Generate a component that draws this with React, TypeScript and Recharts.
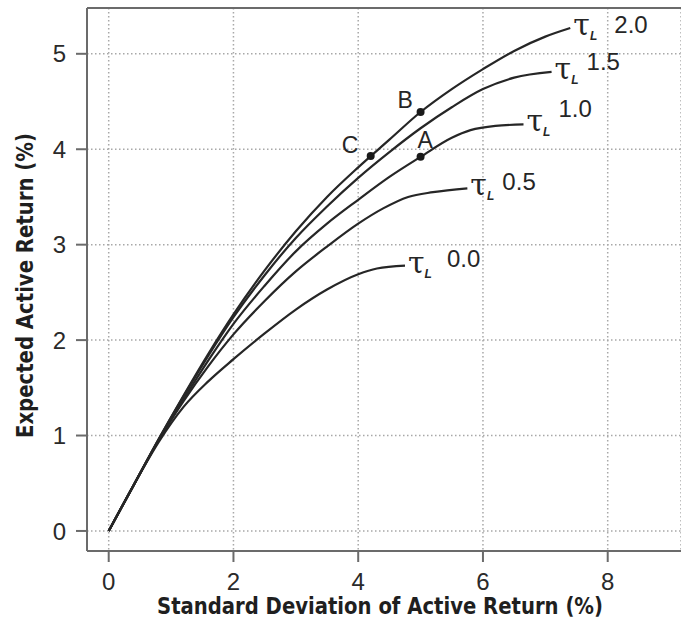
import React from 'react';
import {
  ComposedChart,
  Line,
  Scatter,
  XAxis,
  YAxis,
  CartesianGrid,
  ReferenceLine,
  Label,
} from 'recharts';

// efficient frontiers for each tau_L level, [sd, expected return] in %
const TAU_LEVELS = ['0.0', '0.5', '1.0', '1.5', '2.0'];

const tau00 = [
  [0, 0], [0.4, 0.48], [0.8, 0.93], [1.2, 1.3], [1.6, 1.57], [2, 1.8], [2.5, 2.07],
  [3, 2.32], [3.5, 2.53], [4, 2.69], [4.3, 2.75], [4.75, 2.78],
];
const tau05 = [
  [0, 0], [0.4, 0.48], [0.8, 0.95], [1.2, 1.36], [1.6, 1.73], [2, 2.06], [2.5, 2.41],
  [3, 2.72], [3.5, 2.98], [4, 3.22], [4.4, 3.38], [4.8, 3.5], [5.2, 3.55], [5.75, 3.59],
];
const tau10 = [
  [0, 0], [0.4, 0.48], [0.8, 0.95], [1.2, 1.38], [1.6, 1.79], [2, 2.17], [2.5, 2.57],
  [3, 2.93], [3.5, 3.22], [4, 3.47], [4.5, 3.71], [5, 3.92], [5.5, 4.12], [5.8, 4.2],
  [6.2, 4.245], [6.65, 4.26],
];
const tau15 = [
  [0, 0], [0.4, 0.48], [0.8, 0.96], [1.2, 1.41], [1.6, 1.84], [2, 2.24], [2.5, 2.68],
  [3, 3.07], [3.5, 3.4], [4, 3.7], [4.5, 3.97], [5, 4.22], [5.5, 4.44], [6, 4.63],
  [6.5, 4.75], [7.1, 4.81],
];
const tau20 = [
  [0, 0], [0.4, 0.48], [0.8, 0.96], [1.2, 1.42], [1.6, 1.86], [2, 2.27], [2.5, 2.73],
  [3, 3.14], [3.5, 3.5], [4, 3.81], [4.5, 4.1], [5, 4.39], [5.5, 4.63], [6, 4.84],
  [6.5, 5.03], [7, 5.18], [7.4, 5.27],
];

// marked portfolios
const POINT_NAMES = ['C', 'B', 'A'];
const POINT_SD = [4.2, 5.0, 5.0];
const POINT_RET = [3.93, 4.39, 3.92];

const X_TICKS = [0, 2, 4, 6, 8];
const Y_TICKS = [0, 1, 2, 3, 4, 5];
const X_DOMAIN = [-0.348, 9.175];
const Y_DOMAIN = [-0.21, 5.48];

const curves = [tau00, tau05, tau10, tau15, tau20].map((pts, i) => ({
  tau: TAU_LEVELS[i],
  data: pts.map(([x, y]) => ({ x, y })),
}));

const curveEnds = curves.map((c) => ({ ...c.data[c.data.length - 1], tau: c.tau }));

const points = POINT_NAMES.map((name, i) => ({ x: POINT_SD[i], y: POINT_RET[i], name }));

// where the number sits relative to the curve end (px)
const NUM_OFFSET: Record<string, [number, number]> = {
  '0.0': [42, 1],
  '0.5': [35, 2],
  '1.0': [35, -7],
  '1.5': [35, -2],
  '2.0': [44, 5],
};

const LETTER_OFFSET: Record<string, [number, number]> = {
  A: [-3, -9],
  B: [-23, -4],
  C: [-29, -3],
};

const INK = '#262626';
const FRAME = '#6b6b6b';
const TEXT_FONT = '"Liberation Sans", Arial, sans-serif';
const TITLE_FONT = '"Liberation Sans Narrow", "DejaVu Sans Condensed", "Arial Narrow", sans-serif';

const TauLabel = (props: any) => {
  const { cx, cy, payload } = props;
  const [dx, dy] = NUM_OFFSET[payload.tau];
  return (
    <g>
      <text x={cx + 3} y={cy + 7} fill={INK}>
        <tspan fontFamily='"DejaVu Serif", serif' fontSize={30}>τ</tspan>
        <tspan dx={0} dy={5} fontFamily={TEXT_FONT} fontStyle="italic" fontWeight="bold" fontSize={12}>
          L
        </tspan>
      </text>
      <text x={cx + dx} y={cy + dy} fontFamily={TEXT_FONT} fontSize={24} fill={INK}>
        {payload.tau}
      </text>
    </g>
  );
};

const PointMark = (props: any) => {
  const { cx, cy, payload } = props;
  const [dx, dy] = LETTER_OFFSET[payload.name];
  return (
    <g>
      <circle cx={cx} cy={cy} r={4} fill="#1a1a1a" />
      <text x={cx + dx} y={cy + dy} fontFamily={TEXT_FONT} fontSize={23} fill={INK}>
        {payload.name}
      </text>
    </g>
  );
};

const XTick = (props: any) => (
  <text x={props.x} y={props.y} dy="0.71em" textAnchor="middle" fontFamily={TEXT_FONT} fontSize={24} style={{ fontSize: 24 }} fill="#2a2a2a">
    {props.payload.value}
  </text>
);

const YTick = (props: any) => (
  <text x={props.x} y={props.y} dy="0.36em" textAnchor="end" fontFamily={TEXT_FONT} fontSize={24} style={{ fontSize: 24 }} fill="#2a2a2a">
    {props.payload.value}
  </text>
);

const XTitle = (props: any) => {
  const { x, y, width } = props.viewBox;
  return (
    <text
      x={x + width / 2 - 4}
      y={y + 63}
      textAnchor="middle"
      fontFamily={TITLE_FONT}
      fontWeight="bold"
      fontSize={23}
      fill="#1f1f1f"
      textLength={446}
      lengthAdjust="spacingAndGlyphs"
    >
      Standard Deviation of Active Return (%)
    </text>
  );
};

const YTitle = (props: any) => {
  const { y, height } = props.viewBox;
  const cx = 33;
  const cy = y + height / 2 + 6;
  return (
    <text
      x={cx}
      y={cy}
      transform={`rotate(-90, ${cx}, ${cy})`}
      textAnchor="middle"
      fontFamily={TITLE_FONT}
      fontWeight="bold"
      fontSize={23}
      fill="#1f1f1f"
      textLength={305}
      lengthAdjust="spacingAndGlyphs"
    >
      Expected Active Return (%)
    </text>
  );
};

export default function App() {
  return (
    <div style={{ position: 'absolute', left: 0, top: 0, width: 681, height: 632, background: '#fff' }}>
      <ComposedChart width={681} height={632} margin={{ top: 8, right: 0, bottom: 0, left: 0 }}>
        <CartesianGrid stroke="#a8a8a8" strokeDasharray="1.5 2.5" strokeWidth={1.5} />
        <XAxis
          type="number"
          dataKey="x"
          domain={X_DOMAIN}
          ticks={X_TICKS}
          allowDataOverflow
          height={81}
          tickSize={11}
          tickMargin={11}
          tick={XTick}
          axisLine={{ stroke: FRAME, strokeWidth: 2 }}
          tickLine={{ stroke: FRAME, strokeWidth: 2 }}
        >
          <Label content={XTitle} />
        </XAxis>
        <YAxis
          type="number"
          dataKey="y"
          domain={Y_DOMAIN}
          ticks={Y_TICKS}
          allowDataOverflow
          width={87}
          tickSize={11}
          tickMargin={10}
          tick={YTick}
          axisLine={{ stroke: FRAME, strokeWidth: 2 }}
          tickLine={{ stroke: FRAME, strokeWidth: 2 }}
        >
          <Label content={YTitle} />
        </YAxis>
        <ReferenceLine y={Y_DOMAIN[1]} stroke={FRAME} strokeWidth={2} />
        {curves.map((c) => (
          <Line
            key={c.tau}
            data={c.data}
            dataKey="y"
            type="monotone"
            stroke={INK}
            strokeWidth={2.2}
            dot={false}
            activeDot={false}
            isAnimationActive={false}
          />
        ))}
        <Scatter data={curveEnds} dataKey="y" shape={TauLabel} isAnimationActive={false} />
        <Scatter data={points} dataKey="y" shape={PointMark} isAnimationActive={false} />
      </ComposedChart>
    </div>
  );
}
